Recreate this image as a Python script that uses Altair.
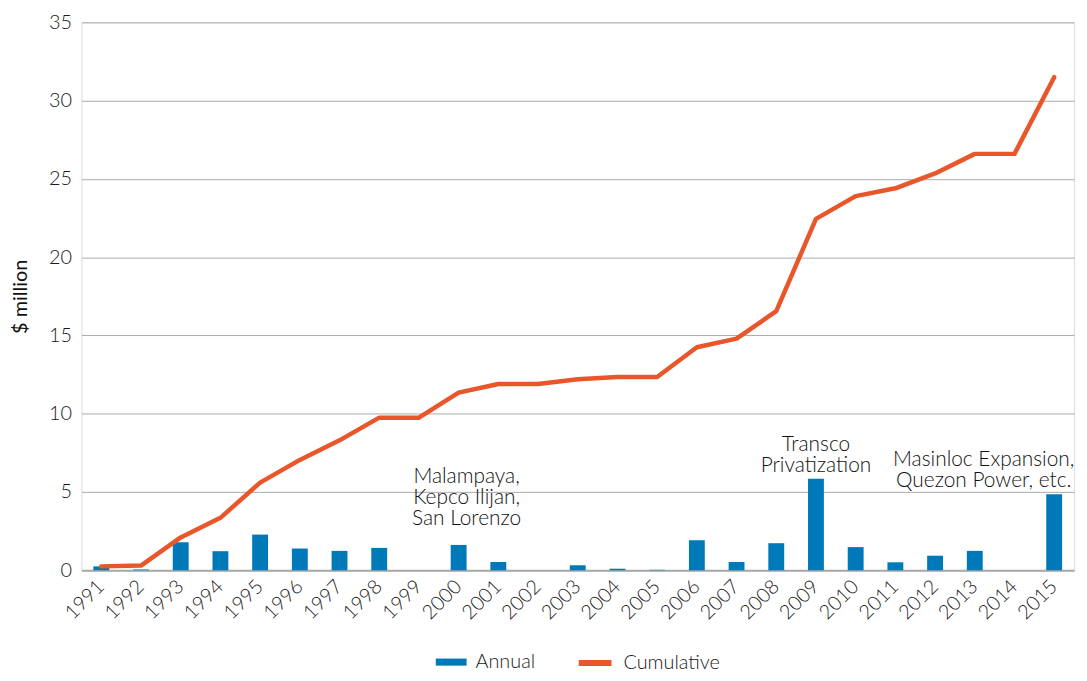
import altair as alt
import pandas as pd

years = [str(y) for y in range(1991, 2016)]
annual = [0.25, 0.05, 1.79, 1.22, 2.28, 1.39, 1.24, 1.43, 0, 1.62, 0.53, 0, 0.32,
          0.1, 0.03, 1.92, 0.53, 1.73, 5.84, 1.48, 0.51, 0.93, 1.24, 0, 4.85]
cumulative = [0.25, 0.3, 2.1, 3.35, 5.6, 7.05, 8.3, 9.75, 9.75, 11.35, 11.9, 11.9,
              12.2, 12.35, 12.35, 14.25, 14.8, 16.55, 22.45, 23.9, 24.4, 25.35,
              26.6, 26.6, 31.5]

ann_years = ["2000", "2009", "2015"]
ann_values = [5.58, 7.61, 6.66]
ann_texts = ["Malampaya,\nKepco Ilijan,\nSan Lorenzo",
             "Transco\nPrivatization",
             "Masinloc Expansion,\nQuezon Power, etc."]

FONT = "Lato"
BLUE = "#0079B8"
ORANGE = "#E8562A"

bars_df = pd.DataFrame({"year": years, "value": annual, "series": "Annual"})
line_df = pd.DataFrame({"year": years, "value": cumulative, "series": "Cumulative"})
ann_df = pd.DataFrame({"year": ann_years, "value": ann_values, "text": ann_texts})

x_enc = alt.X("year:N", sort=years, scale=alt.Scale(paddingInner=0.6, paddingOuter=0.3),
              axis=alt.Axis(title=None, labelAngle=-45, labelAlign="right",
                            labelBaseline="middle", labelFontSize=20, labelFont=FONT,
                            labelFontWeight=300, labelColor="#1a1a1a", ticks=False,
                            domain=True, domainColor="#aaaaaa", domainWidth=2,
                            labelPadding=13))
y_scale = alt.Scale(domain=[0, 35])
y_axis = alt.Axis(title="$ million", values=list(range(0, 36, 5)), labelFontSize=20,
                  labelFont=FONT, labelFontWeight=300, labelColor="#1a1a1a",
                  titleFont=FONT, titleFontSize=20, titleFontWeight="normal",
                  titleColor="#111", titlePadding=18, ticks=False, domain=False,
                  grid=True, gridColor="#aaaaaa", gridWidth=1, labelPadding=10)

leg_common = dict(title=None, orient="none", direction="horizontal",
                  labelFont=FONT, labelFontSize=20, labelFontWeight=300,
                  labelColor="#1a1a1a", labelOffset=9)

bars = alt.Chart(bars_df).mark_bar(size=16).encode(
    x=x_enc,
    y=alt.Y("value:Q", scale=y_scale, axis=y_axis),
    color=alt.Color("series:N", scale=alt.Scale(domain=["Annual"], range=[BLUE]),
                    legend=alt.Legend(legendX=357, legendY=629,
                                      symbolType="M-1,-0.23H1V0.23H-1Z",
                                      symbolSize=961, symbolStrokeWidth=0,
                                      symbolOpacity=1, **leg_common)),
)

line = alt.Chart(line_df).mark_line(strokeWidth=4.5, strokeJoin="round",
                                    strokeCap="round").encode(
    x=alt.X("year:N", sort=years),
    y=alt.Y("value:Q", scale=y_scale),
    stroke=alt.Stroke("series:N", scale=alt.Scale(domain=["Cumulative"], range=[ORANGE]),
                      legend=alt.Legend(legendX=498, legendY=626, symbolType="stroke",
                                        symbolSize=1089, symbolStrokeWidth=6,
                                        **leg_common)),
)

def ann(i, dx):
    d = ann_df.iloc[[i]]
    return alt.Chart(d).mark_text(align="center", baseline="alphabetic", dx=dx,
                                  font=FONT, fontSize=21, fontWeight=300, color="#111111",
                                  lineBreak="\n", lineHeight=21).encode(
        x=alt.X("year:N", sort=years), y=alt.Y("value:Q", scale=y_scale),
        text="text:N")

chart = alt.layer(bars, line, ann(0, 8), ann(1, 0), ann(2, -71)).properties(
    width=1000, height=552,
    autosize=alt.AutoSizeParams(type="none"),
    padding={"left": 74, "top": 12, "right": 5, "bottom": 101},
).configure_view(stroke=None).configure(background="white")

chart.save("out.html", embed_options={"renderer": "svg", "actions": False})
